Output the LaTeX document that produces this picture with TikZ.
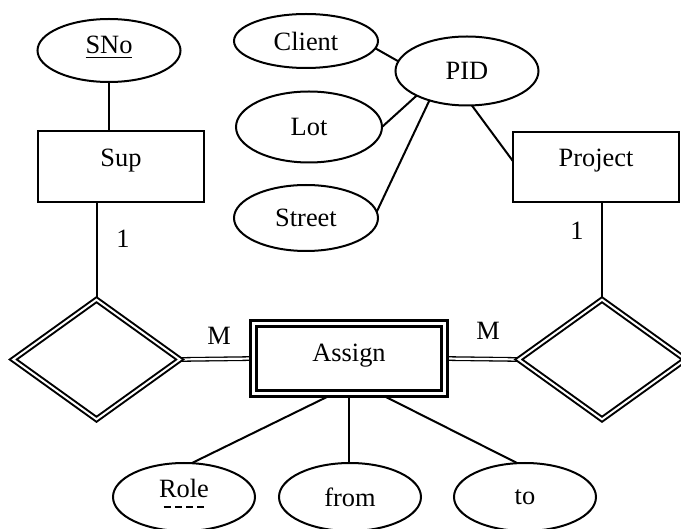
\documentclass[tikz,border=0pt]{standalone}
\usepackage{fontspec}
\setmainfont{Liberation Serif}
\usetikzlibrary{shapes.geometric,backgrounds}
\newsavebox{\dashtextbox}
\newcommand{\dashund}[1]{\sbox{\dashtextbox}{#1}\leavevmode\rlap{\usebox{\dashtextbox}}\rlap{\raisebox{-4.8pt}{\hbox to \wd\dashtextbox{\cleaders\hbox to 5.6pt{\hfil\vrule width 3.6pt height 0.6pt\hfil}\hfill}}}\hbox to \wd\dashtextbox{}}
\begin{document}
\begin{tikzpicture}[x=0.5pt,y=-0.5pt,
  every node/.style={font=\fontsize{13.2}{16}\selectfont, inner sep=0pt, outer sep=0pt},
  attr/.style={draw, ellipse, line width=1pt},
  ent/.style={draw, rectangle, line width=1pt, minimum width=83pt, text height=5pt, text depth=5pt},
  rel/.style={draw, diamond, line width=1pt, double, double distance=1pt, minimum width=83.3pt, minimum height=59.8pt},
  wk/.style={draw, rectangle, line width=1.65pt, double, double distance=1.15pt},
  conn/.style={line width=1pt},
  dconn/.style={line width=0.65pt, double, double distance=1.1pt}]
\useasboundingbox (0,0) rectangle (681,529);
% attributes and entities
\node[attr, minimum width=71.5pt, minimum height=31.5pt, text height=6pt, text depth=2.5pt] (sno) at (109,50.5) {\underline{SNo}};
\node[ent, minimum height=35.5pt] (sup) at (121,167) {Sup};
\node[attr, minimum width=72pt, minimum height=27pt] (client) at (306,41) {Client};
\node[attr, minimum width=71.5pt, minimum height=34.5pt] (pid) at (467,71) {PID};
\node[attr, minimum width=73pt, minimum height=35.5pt] (lot) at (309,127) {Lot};
\node[attr, minimum width=72pt, minimum height=33pt] (street) at (306,218) {Street};
\node[ent, minimum height=35pt] (project) at (596,167) {Project};
\node[rel] (rsup) at (96.5,359.5) {};
\node[rel] (rproj) at (602,359.5) {};
\node[wk, minimum width=95.5pt, minimum height=35pt, text height=8pt, text depth=4.5pt] (assign) at (349,358.5) {Assign};
\node[attr, minimum width=71pt, minimum height=34pt, text height=6pt, text depth=5pt] (role) at (184,497) {\dashund{Role}};
\node[attr, minimum width=71pt, minimum height=34pt] (from) at (350,497) {from};
\node[attr, minimum width=71pt, minimum height=34pt] (tonode) at (525,497) {to};
% cardinality labels
\node (c1) at (123,238.5) {1};
\node (c2) at (577,231) {1};
\node (m1) at (219,335.5) {M};
\node (m2) at (488,331) {M};
% connectors
\begin{scope}[on background layer]
\draw[conn] (sno.south) -- (sno.south |- sup.north);
\draw[conn] (rsup.north) -- (rsup.north |- sup.south);
\draw[conn] (rproj.north) -- (rproj.north |- project.south);
\draw[conn] (client.-6) -- (pid.172);
\draw[conn] (lot.east) -- (pid.206);
\draw[conn] (street.5) -- (pid.218);
\draw[conn] (pid.-82) -- (project.176.5);
\draw[conn] ([xshift=4pt]role.north) -- ([xshift=-7.5pt]assign.south);
\draw[conn] (assign.south) -- (assign.south |- from.north);
\draw[conn] ([xshift=-4pt]tonode.north) -- ([xshift=15pt]assign.south);
\draw[dconn] (rsup.east) -- (assign.west);
\draw[dconn] (assign.east) -- (rproj.west);
\end{scope}
\end{tikzpicture}
\end{document}
